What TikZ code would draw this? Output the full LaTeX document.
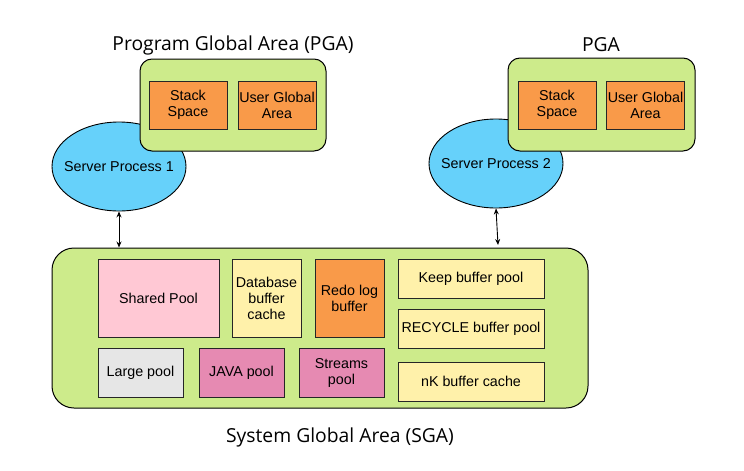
\documentclass[tikz,border=0pt]{standalone}
\usepackage{fontspec}
\setmainfont{Liberation Sans}
\newfontfamily\titlefont{Open Sans}
\usetikzlibrary{shapes.geometric,arrows.meta}

\definecolor{areagreen}{HTML}{CDEB8B}
\definecolor{memorange}{HTML}{F99A49}
\definecolor{poolpink}{HTML}{FFC8D4}
\definecolor{bufyellow}{HTML}{FFF1AA}
\definecolor{poolgray}{HTML}{E6E6E6}
\definecolor{poolmagenta}{HTML}{E68AB2}
\definecolor{procblue}{HTML}{66D1FA}

\tikzset{
  area/.style={draw=black, fill=areagreen, line width=1pt},
  membox/.style={draw=black!85, line width=0.9pt, align=center, inner sep=1pt,
    font=\fontsize{14.3}{16}\selectfont},
  proc/.style={ellipse, draw=black, fill=procblue, line width=0.9pt, inner sep=0pt,
    minimum width=134pt, minimum height=89pt, font=\fontsize{14.3}{16}\selectfont},
  areatitle/.style={font=\titlefont\fontsize{19.3}{22}\selectfont},
  link/.style={<->, >={Stealth[length=6pt,width=5pt]}, line width=0.9pt}
}

\begin{document}
\begin{tikzpicture}[x=1pt, y=-1pt]
            \useasboundingbox (0,0) rectangle (744,471);

            % server processes (behind the PGA boxes)
            \node[proc] (sp1) at (119, 166.5) {\makebox[0pt]{Server Process 1}};
            \node[proc] (sp2) at (496, 163.5) {\makebox[0pt]{Server Process 2}};

            % program global areas
            \node[areatitle] (pgat1) at (233, 45) {Program Global Area (PGA)};
            \node[area, rounded corners=12pt, minimum width=186pt, minimum height=92pt] (pga1) at (233, 105) {};
            \node[membox, fill=memorange, minimum width=78pt, minimum height=48pt] (stack1) at (188, 105) {Stack\\Space};
            \node[membox, fill=memorange, minimum width=78pt, minimum height=48pt] (uga1) at (277, 105) {User Global\\Area};

            \node[areatitle] (pgat2) at (601, 45) {PGA};
            \node[area, rounded corners=12pt, minimum width=187pt, minimum height=93pt] (pga2) at (601.5, 104.5) {};
            \node[membox, fill=memorange, minimum width=78pt, minimum height=48pt] (stack2) at (557, 105) {Stack\\Space};
            \node[membox, fill=memorange, minimum width=77pt, minimum height=48pt] (uga2) at (645.5, 105) {User Global\\Area};

            % system global area
            \node[area, rounded corners=22pt, minimum width=536pt, minimum height=160pt] (sga) at (320, 328) {};
            \node[areatitle] (sgat) at (340, 437) {System Global Area (SGA)};

            \node[membox, fill=poolpink, minimum width=121pt, minimum height=78pt] (shared) at (158.5, 298) {Shared Pool};
            \node[membox, fill=bufyellow, minimum width=69pt, minimum height=78pt] (dbcache) at (266.5, 298) {Database\\buffer\\cache};
            \node[membox, fill=memorange, minimum width=69pt, minimum height=78pt] (redo) at (349.5, 298) {Redo log\\buffer};

            \node[membox, fill=poolgray, minimum width=85pt, minimum height=49pt] (large) at (140.5, 372.5) {Large pool};
            \node[membox, fill=poolmagenta, minimum width=85pt, minimum height=49pt] (java) at (241.5, 372.5) {JAVA pool};
            \node[membox, fill=poolmagenta, minimum width=85pt, minimum height=49pt] (streams) at (341.5, 372.5) {Streams\\pool};

            \node[membox, fill=bufyellow, minimum width=146pt, minimum height=39pt] (keep) at (471, 278.5) {Keep buffer pool};
            \node[membox, fill=bufyellow, minimum width=146pt, minimum height=39pt] (recycle) at (471, 328.5) {RECYCLE buffer pool};
            \node[membox, fill=bufyellow, minimum width=146pt, minimum height=39pt] (nkcache) at (471, 381.5) {nK buffer cache};

            % links
            \coordinate (sga1) at (sp1.south |- sga.north);
            \coordinate (sga2) at ([xshift=2pt]sp2.south |- 0,245);
            \draw[link] (sp1.south) -- (sga1);
            \draw[link] (sp2.south) -- (sga2);
        \end{tikzpicture}
\end{document}
